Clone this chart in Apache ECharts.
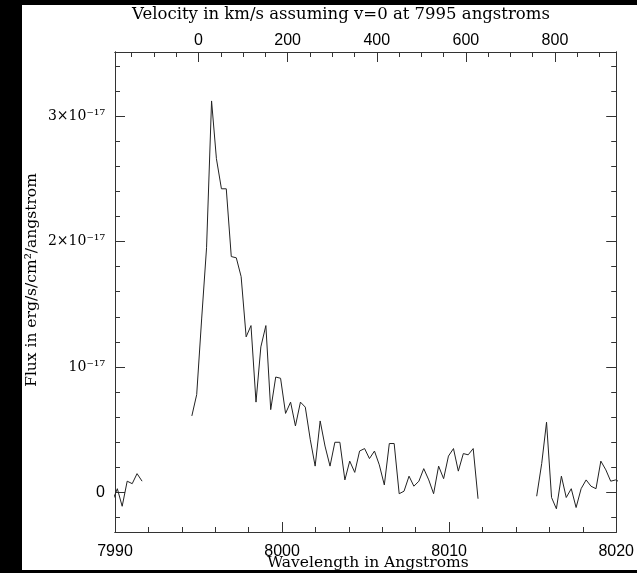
<!DOCTYPE html>
<html>
<head>
<meta charset="utf-8">
<script src="https://cdn.jsdelivr.net/npm/echarts@6/dist/echarts.min.js"></script>
<style>
  html, body { margin: 0; padding: 0; background: #000; }
  #main {
    position: absolute;
    left: 22px;
    top: 5px;
    width: 615px;
    height: 565px;
    background: #fff;
  }
</style>
</head>
<body>
<div id="main"></div>
<script>
// flux values are in units of 1e-17 erg/s/cm2/angstrom
const wave1 = [7989.84, 7990.14, 7990.43, 7990.73, 7991.03, 7991.32, 7991.62];
const flux1 = [-0.07, 0.03, -0.11, 0.09, 0.07, 0.15, 0.09];

const wave2 = [
  7994.60, 7994.89, 7995.19, 7995.48, 7995.78, 7996.07, 7996.37, 7996.66, 7996.96, 7997.26,
  7997.55, 7997.85, 7998.14, 7998.44, 7998.73, 7999.03, 7999.32, 7999.62, 7999.91, 8000.21,
  8000.51, 8000.80, 8001.10, 8001.39, 8001.69, 8001.98, 8002.28, 8002.57, 8002.87, 8003.16,
  8003.46, 8003.76, 8004.05, 8004.35, 8004.64, 8004.94, 8005.23, 8005.53, 8005.82, 8006.12,
  8006.42, 8006.71, 8007.01, 8007.30, 8007.60, 8007.89, 8008.19, 8008.48, 8008.78, 8009.07,
  8009.37, 8009.67, 8009.96, 8010.26, 8010.55, 8010.85, 8011.14, 8011.44, 8011.73
];
const flux2 = [
  0.61, 0.78, 1.39, 1.95, 3.12, 2.66, 2.42, 2.42, 1.88, 1.87,
  1.72, 1.24, 1.33, 0.72, 1.16, 1.33, 0.66, 0.92, 0.91, 0.63,
  0.72, 0.53, 0.72, 0.68, 0.42, 0.21, 0.57, 0.37, 0.21, 0.40,
  0.40, 0.10, 0.25, 0.16, 0.33, 0.35, 0.27, 0.33, 0.22, 0.06,
  0.39, 0.39, -0.01, 0.01, 0.13, 0.05, 0.09, 0.19, 0.10, -0.01,
  0.21, 0.11, 0.29, 0.35, 0.17, 0.31, 0.30, 0.35, -0.05
];

const wave3 = [
  8015.24, 8015.54, 8015.83, 8016.13, 8016.42, 8016.72, 8017.01, 8017.31, 8017.60,
  8017.90, 8018.20, 8018.49, 8018.79, 8019.08, 8019.38, 8019.67, 8019.97, 8020.26
];
const flux3 = [
  -0.03, 0.23, 0.56, -0.04, -0.13, 0.13, -0.04, 0.03, -0.12,
  0.03, 0.10, 0.05, 0.03, 0.25, 0.18, 0.09, 0.10, 0.08
];

const waveTicks = [7990, 8000, 8010, 8020];
const fluxTicks = [0, 1, 2, 3];
const fluxMinorTicks = [-0.2, 0, 0.2, 0.4, 0.6, 0.8, 1, 1.2, 1.4, 1.6, 1.8, 2, 2.2, 2.4, 2.6, 2.8, 3, 3.2, 3.4];
const velTicks = [0, 200, 400, 600, 800];
const velMinorTicks = [-150, -100, -50, 0, 50, 100, 150, 200, 250, 300, 350, 400, 450, 500,
  550, 600, 650, 700, 750, 800, 850, 900];

const restWave = 7995;
const lightSpeed = 299792.458;
const waveMin = 7990, waveMax = 8020;
const fluxMin = -0.315, fluxMax = 3.51;

const velMin = (waveMin - restWave) / restWave * lightSpeed;
const velMax = (waveMax - restWave) / restWave * lightSpeed;

const serif = "DejaVu Serif";
const sans = "Liberation Sans";
const lineColor = "#333";

function pairs(w, f) {
  return w.map((x, i) => [x, f[i]]);
}

function fluxLabel(v) {
  if (v === 0) return "{s|0}";
  if (v === 1) return "10⁻¹⁷";
  return v + "×10⁻¹⁷";
}

const chart = echarts.init(document.getElementById("main"));

const baseX = {
  type: "value",
  min: waveMin,
  max: waveMax,
  splitLine: { show: false },
  axisLine: { onZero: false, lineStyle: { color: lineColor } },
};
const baseY = {
  type: "value",
  min: fluxMin,
  max: fluxMax,
  splitLine: { show: false },
  axisLine: { onZero: false, lineStyle: { color: lineColor } },
};

const option = {
  animation: false,
  grid: { left: 93, right: 16, top: 47, bottom: 38 },
  xAxis: [
    Object.assign({}, baseX, {
      position: "bottom",
      interval: 10,
      axisTick: { inside: true, length: 10, lineStyle: { color: lineColor }, customValues: waveTicks },
      axisLabel: {
        margin: 12,
        color: "#000",
        fontFamily: sans,
        fontSize: 16,
        customValues: waveTicks,
        formatter: (v) => String(v),
      },
    }),
    Object.assign({}, baseX, {
      position: "bottom",
      interval: 2,
      axisTick: { inside: true, length: 5, lineStyle: { color: lineColor } },
      axisLabel: { show: false },
    }),
    Object.assign({}, baseX, {
      position: "top",
      min: velMin,
      max: velMax,
      axisTick: { inside: true, length: 10, lineStyle: { color: lineColor }, customValues: velTicks },
      axisLabel: {
        margin: 3,
        color: "#000",
        fontFamily: sans,
        fontSize: 16,
        customValues: velTicks,
        formatter: (v) => String(v),
      },
    }),
    Object.assign({}, baseX, {
      position: "top",
      min: velMin,
      max: velMax,
      axisTick: { inside: true, length: 5, lineStyle: { color: lineColor }, customValues: velMinorTicks },
      axisLabel: { show: false },
    }),
  ],
  yAxis: [
    Object.assign({}, baseY, {
      position: "left",
      axisTick: { inside: true, length: 10, lineStyle: { color: lineColor }, customValues: fluxTicks },
      axisLabel: {
        margin: 10,
        color: "#000",
        fontFamily: serif,
        fontSize: 14,
        customValues: fluxTicks,
        formatter: fluxLabel,
        rich: { s: { fontFamily: sans, fontSize: 16, color: "#000" } },
      },
    }),
    Object.assign({}, baseY, {
      position: "left",
      axisTick: { inside: true, length: 5, lineStyle: { color: lineColor }, customValues: fluxMinorTicks },
      axisLabel: { show: false },
    }),
    Object.assign({}, baseY, {
      position: "right",
      axisTick: { inside: true, length: 10, lineStyle: { color: lineColor }, customValues: fluxTicks },
      axisLabel: { show: false },
    }),
    Object.assign({}, baseY, {
      position: "right",
      axisTick: { inside: true, length: 5, lineStyle: { color: lineColor }, customValues: fluxMinorTicks },
      axisLabel: { show: false },
    }),
  ],
  graphic: [
    {
      type: "text",
      x: 319,
      y: 10,
      style: {
        text: "Velocity in km/s assuming v=0 at 7995 angstroms",
        font: "16.5px " + serif,
        fill: "#000",
        textAlign: "center",
        textVerticalAlign: "middle",
      },
    },
    {
      type: "text",
      x: 346,
      y: 558,
      style: {
        text: "Wavelength in Angstroms",
        font: "15.5px " + serif,
        fill: "#000",
        textAlign: "center",
        textVerticalAlign: "middle",
      },
    },
    {
      type: "text",
      x: 10,
      y: 275,
      rotation: Math.PI / 2,
      style: {
        text: "Flux in erg/s/cm²/angstrom",
        font: "15.5px " + serif,
        fill: "#000",
        textAlign: "center",
        textVerticalAlign: "middle",
      },
    },
  ],
  series: [
    { data: pairs(wave1, flux1) },
    { data: pairs(wave2, flux2) },
    { data: pairs(wave3, flux3) },
  ].map((s) => ({
    type: "line",
    data: s.data,
    xAxisIndex: 0,
    yAxisIndex: 0,
    showSymbol: false,
    clip: true,
    lineStyle: { color: "#222", width: 1 },
  })),
};

chart.setOption(option);
</script>
</body>
</html>
